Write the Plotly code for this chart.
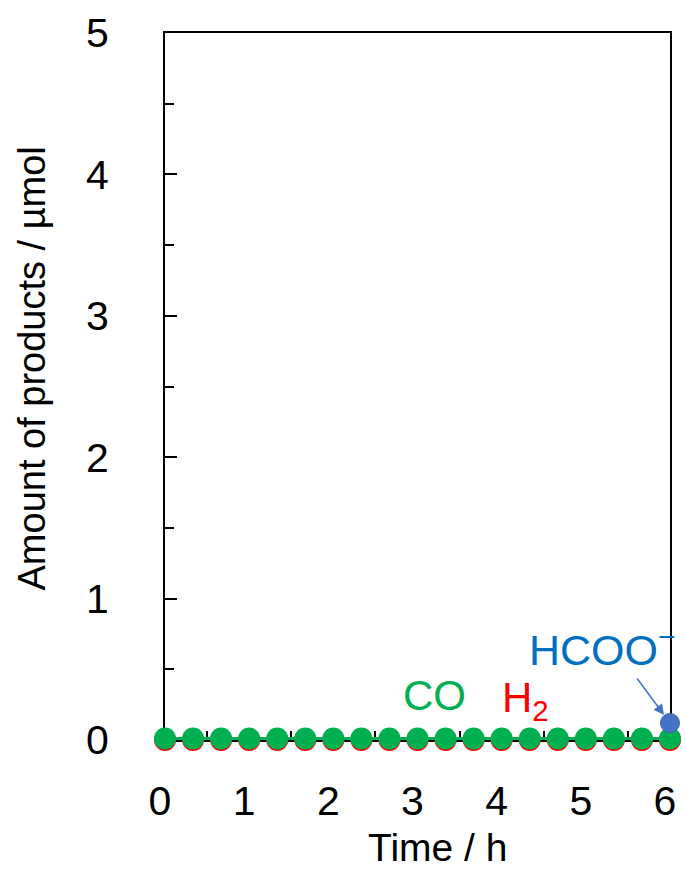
import plotly.graph_objects as go

# Sampling times (h): every 20 min over 6 h
time_h = [0, 1/3, 2/3, 1, 4/3, 5/3, 2, 7/3, 8/3, 3, 10/3, 11/3, 4, 13/3, 14/3, 5, 16/3, 17/3, 6]

# Product amounts (µmol)
h2_umol = [0.0] * 19
co_umol = [0.01] * 19
hcoo_time_h = [6]
hcoo_umol = [0.12]

x_ticks = [0, 1, 2, 3, 4, 5, 6]
y_ticks = [0, 1, 2, 3, 4, 5]

GREEN = "#00B050"
RED = "#FF0000"
BLUE_TEXT = "#0070C0"
BLUE_MARK = "#4472C4"
FONT = "Liberation Sans, Arial, sans-serif"

fig = go.Figure()

fig.add_trace(go.Scatter(
    x=time_h, y=h2_umol, mode="lines+markers", name="H2",
    line=dict(color=RED, width=3),
    marker=dict(color=RED, size=22),
    cliponaxis=False,
))
fig.add_trace(go.Scatter(
    x=time_h, y=co_umol, mode="lines+markers", name="CO",
    line=dict(color=GREEN, width=3),
    marker=dict(color=GREEN, size=22),
    cliponaxis=False,
))
fig.add_trace(go.Scatter(
    x=hcoo_time_h, y=hcoo_umol, mode="markers", name="HCOO-",
    marker=dict(color=BLUE_MARK, size=19, line=dict(color="#3A64B0", width=1)),
    cliponaxis=False,
))

axis_common = dict(
    showline=True, linecolor="black", linewidth=2, mirror=True,
    ticks="inside", ticklen=12, tickwidth=2, tickcolor="black",
    showgrid=False, zeroline=False,
    tickfont=dict(size=41, color="black", family=FONT),
    layer="below traces",
    minor=dict(ticks="inside", ticklen=9, tickwidth=2, tickcolor="black", dtick=0.5, showgrid=False),
)

fig.update_xaxes(
    range=[0, 6], tickvals=x_ticks, ticktext=[str(v) for v in x_ticks],
    ticklabelstandoff=24, ticklabelshift=-5,
    **axis_common,
)
fig.update_yaxes(
    range=[0, 5], tickvals=y_ticks, ticktext=[str(v) for v in y_ticks],
    ticklabelstandoff=46,
    **axis_common,
)

# Axis titles
fig.add_annotation(xref="paper", yref="paper", x=-0.264, y=0.525,
                   text="Amount of products / µmol", textangle=-90, showarrow=False,
                   xanchor="center", yanchor="middle",
                   font=dict(size=38, color="black", family=FONT))
fig.add_annotation(xref="paper", yref="paper", x=0.54, y=-0.152,
                   text="Time / h", showarrow=False,
                   xanchor="center", yanchor="middle",
                   font=dict(size=39, color="black", family=FONT))

# Series labels
fig.add_annotation(x=3.20, y=0.318, text="CO", showarrow=False,
                   xanchor="center", yanchor="middle",
                   font=dict(size=42, color=GREEN, family=FONT))
fig.add_annotation(x=3.98, y=0.28, text="H<sub>2</sub>", showarrow=False,
                   xanchor="left", yanchor="middle",
                   font=dict(size=42, color=RED, family=FONT))
fig.add_annotation(x=5.2, y=0.66, text="HCOO<sup>−</sup>", showarrow=False,
                   xanchor="center", yanchor="middle",
                   font=dict(size=43, color=BLUE_TEXT, family=FONT))
fig.add_annotation(x=6, y=0.12, ax=-34, ay=-46, text="", showarrow=True,
                   arrowhead=2, arrowsize=1.4, arrowwidth=1.5, arrowcolor=BLUE_MARK,
                   standoff=10)

fig.update_layout(
    width=686, height=873,
    margin=dict(l=165, r=10, t=32, b=133),
    plot_bgcolor="white", paper_bgcolor="white",
    showlegend=False,
    font=dict(family=FONT, color="black"),
)

fig.write_html("out.html")
